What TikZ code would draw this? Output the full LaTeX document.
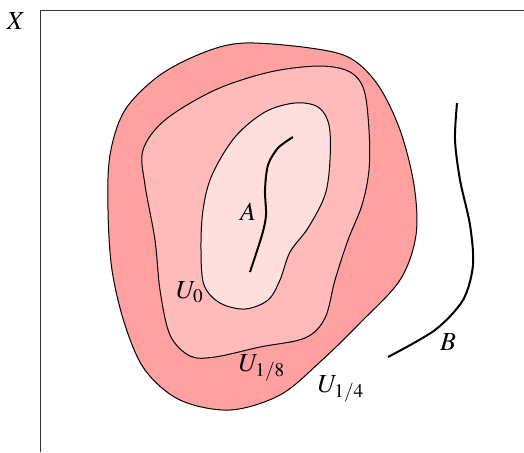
\documentclass[tikz,border=0pt]{standalone}
\usepackage{mathptmx}
\usetikzlibrary{arrows.meta}

\colorlet{uquarter}{red!37}
\colorlet{ueighth}{red!27}
\colorlet{uzero}{red!13}

\begin{document}
\begin{tikzpicture}[x=0.5pt,y=-0.5pt,font=\fontsize{13}{15}\selectfont]
\useasboundingbox (0,0) rectangle (524,452);
\draw[line width=0.4pt,black!80] (40,452) -- (40,10) -- (524,10);
\node (X) at (16,21) {$X$};
\draw[line width=0.5pt,fill=uquarter] plot[smooth cycle,tension=0.55] coordinates
  {(245,43) (310,48) (350,58) (378,85) (400,130) (414,185) (416,235) (400,280)
   (360,323) (320,362) (280,395) (230,410) (180,400) (145,370) (125,325) (112,270)
   (108,210) (110,155) (125,110) (160,75) (205,52)};
\draw[line width=0.5pt,fill=ueighth] plot[smooth cycle,tension=0.55] coordinates
  {(270,72) (320,66) (350,72) (364,90) (369,130) (369,170) (362,205) (348,240)
   (335,280) (325,318) (305,338) (260,347) (215,357) (190,356) (170,335) (160,290)
   (155,240) (145,185) (143,150) (165,120) (215,90)};
\draw[line width=0.5pt,fill=uzero] plot[smooth cycle,tension=0.55] coordinates
  {(295,103) (318,107) (329,125) (330,160) (325,195) (308,228) (290,252) (280,280)
   (268,300) (245,309) (220,303) (204,285) (201,250) (203,210) (212,175) (235,137)
   (265,112)};
\draw[line width=1pt] plot[smooth,tension=0.5] coordinates
  {(293,137) (278,148) (268,165) (265,190) (266,215) (262,235) (250,272)};
\draw[line width=1pt] plot[smooth,tension=0.5] coordinates
  {(457,103) (455,140) (460,180) (470,225) (473,265) (463,300) (435,330) (388,357)};
\node (A) at (248,212) {$A$};
\node (B) at (448,342) {$B$};
\node (U0) at (190,292) {$U_0$};
\node (U8) at (262,368) {$U_{1/8}$};
\node (U4) at (341,389) {$U_{1/4}$};
\end{tikzpicture}
\end{document}
